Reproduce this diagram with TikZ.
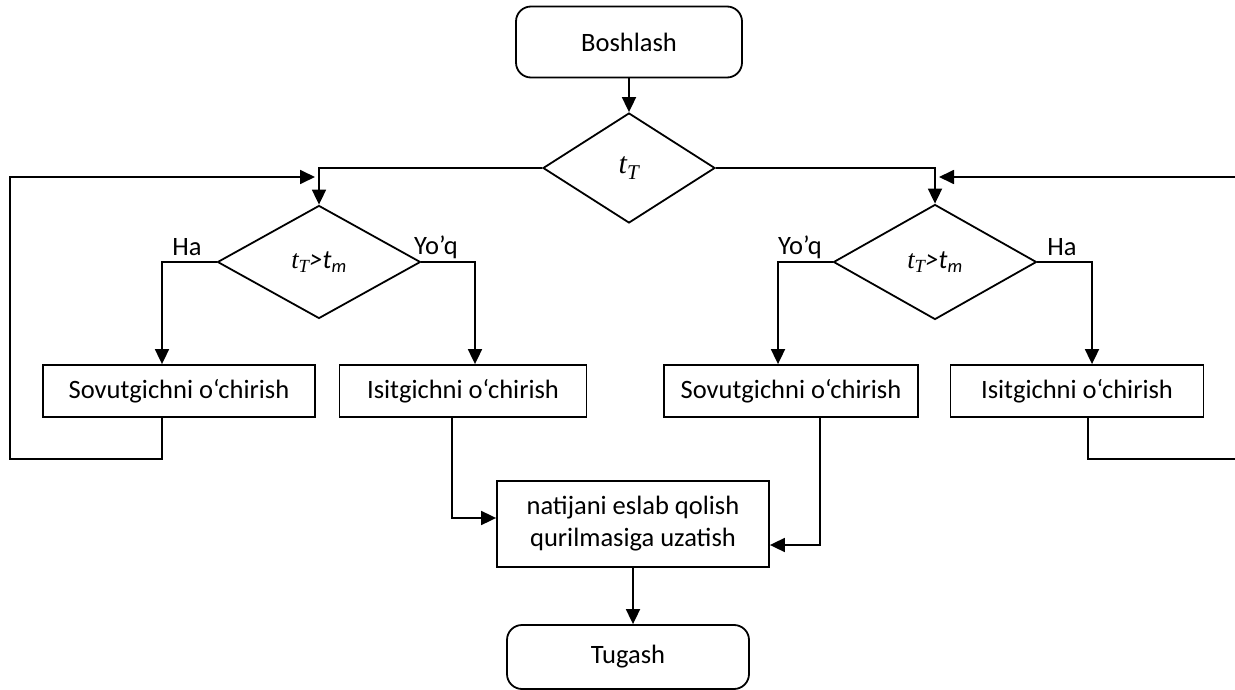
\documentclass[tikz,border=0pt]{standalone}
\usepackage{fontspec}
\setmainfont{Carlito}
\newfontfamily\mathserif{Liberation Serif}
\usetikzlibrary{shapes.geometric,arrows.meta}
\newcommand{\tT}{{\mathserif\itshape t\textsubscript{T}}}
\begin{document}
\begin{tikzpicture}[x=1pt,y=-1pt,
  every node/.style={font=\fontsize{26.5}{32}\selectfont},
  base/.style={draw,line width=1.8pt,inner sep=0pt,align=center},
  term/.style={base,rounded corners=15pt},
  proc/.style={base},
  dec/.style={base,diamond},
  arr/.style={line width=1.8pt,-{Triangle[length=15pt,width=14pt]}},
  lbl/.style={inner sep=0pt}]
\useasboundingbox (0,0) rectangle (1235,690);
\node[term,minimum width=226pt,minimum height=71pt] (start) at (629,42) {Boshlash};
\node[dec,minimum width=172pt,minimum height=110pt,font=\fontsize{30}{34}\selectfont] (d0) at (629,168) {\tT};
\node[dec,minimum width=203pt,minimum height=113pt] (d1) at (319,262) {\tT\textit{>t}\textsubscript{\textit{m}}};
\node[dec,minimum width=203pt,minimum height=115pt] (d2) at (935,262) {\tT\textit{>t}\textsubscript{\textit{m}}};
\node[proc,minimum width=272pt,minimum height=52pt] (b1) at (179,391) {Sovutgichni o‘chirish};
\node[proc,minimum width=247pt,minimum height=52pt] (b2) at (463,391) {Isitgichni o‘chirish};
\node[proc,minimum width=254pt,minimum height=52pt] (b3) at (791,391) {Sovutgichni o‘chirish};
\node[proc,minimum width=253pt,minimum height=52pt] (b4) at (1077,391) {Isitgichni o‘chirish};
\node[proc,minimum width=272pt,minimum height=86pt] (res) at (633,524) {natijani eslab qolish\\qurilmasiga uzatish};
\node[term,minimum width=242pt,minimum height=64pt] (end) at (628,657) {Tugash};
\node[lbl] (l1) at (187,247) {Ha};
\node[lbl] (l2) at (436,247) {Yo’q};
\node[lbl] (l3) at (800,247) {Yo’q};
\node[lbl] (l4) at (1062,247) {Ha};
\coordinate (inL) at (315,177);
\coordinate (inR) at (939,177);
\draw[arr] (start.south) -- (d0.north);
\draw[arr] (d0.west) -| (d1.north);
\draw[arr] (d0.east) -| (d2.north);
\draw[arr] (d1.west) -| ([xshift=-17pt]b1.north);
\draw[arr] (d1.east) -| ([xshift=12pt]b2.north);
\draw[arr] (d2.west) -| ([xshift=-13pt]b3.north);
\draw[arr] (d2.east) -| ([xshift=15pt]b4.north);
\draw[arr] ([xshift=-17pt]b1.south) -- ++(0,41) -| (10,177) -- (inL);
\draw[arr] ([xshift=11pt]b4.south) -- ++(0,41) -| (1240,177) -- (inR);
\draw[arr] ([xshift=-11pt]b2.south) |- ([yshift=6pt]res.west);
\draw[arr] ([xshift=29pt]b3.south) |- ([yshift=-21pt]res.east);
\draw[arr] (res.south) -- (res.south |- end.north);
\end{tikzpicture}
\end{document}
